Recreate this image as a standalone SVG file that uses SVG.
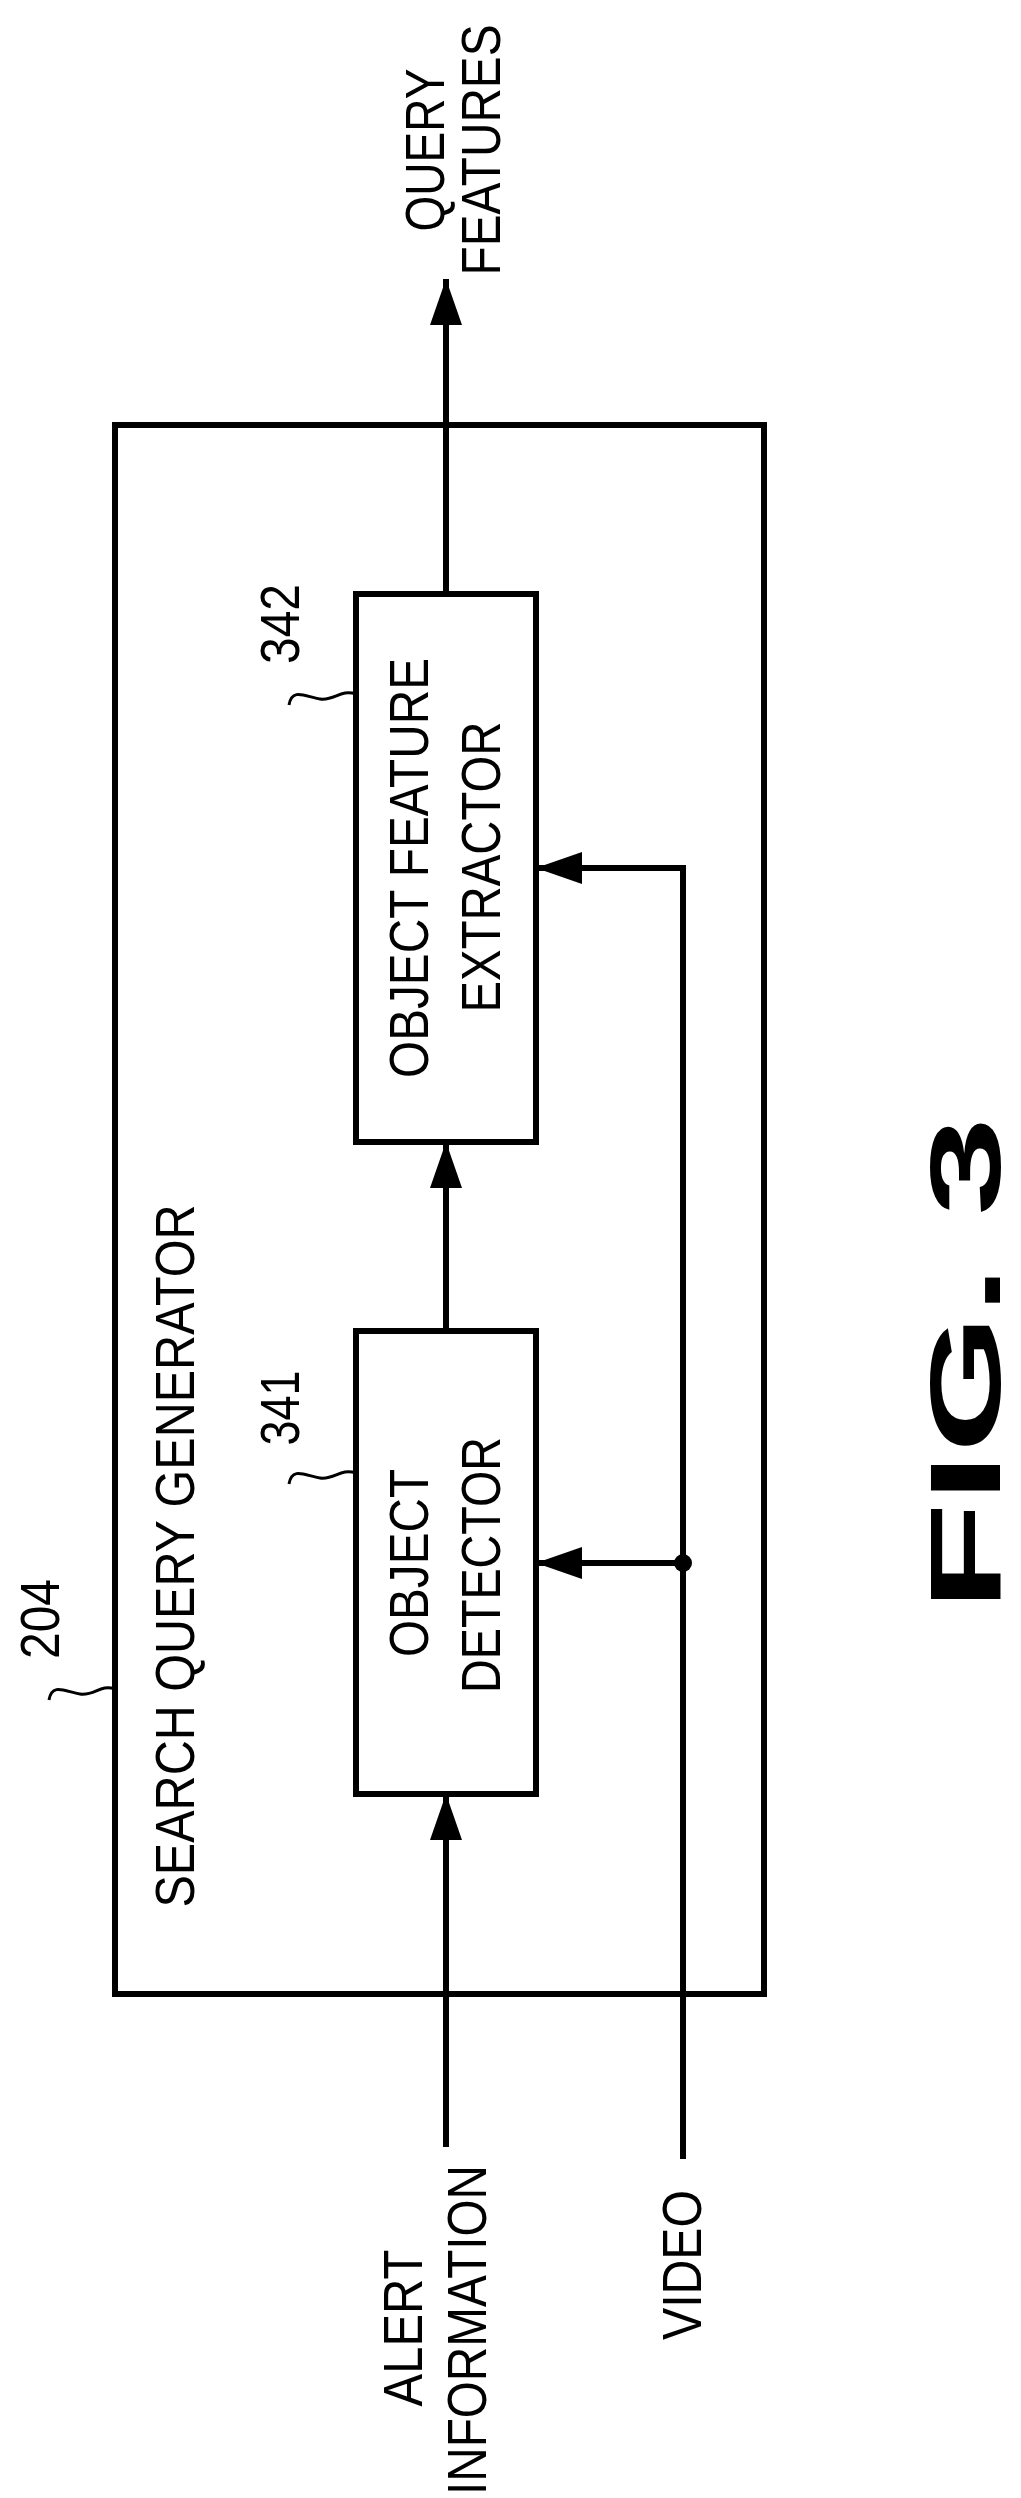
<svg xmlns="http://www.w3.org/2000/svg" width="1021" height="2498" viewBox="0 0 1021 2498">
<style>
.t{font-family:"Liberation Sans",Arial,sans-serif;font-size:56px;fill:#000;text-anchor:middle}
.b{fill:#fff;stroke:#000;stroke-width:6}
.l{fill:none;stroke:#000;stroke-width:6}
.c{fill:none;stroke:#000;stroke-width:3}
</style>
<defs>
<marker id="ah" markerUnits="userSpaceOnUse" markerWidth="50" markerHeight="40" refX="46" refY="16" orient="auto"><path d="M0,0 L46,16 L0,32 Z" fill="#000"/></marker>
</defs>
<g id="n204">
<rect class="b" x="115" y="425" width="649" height="1569"/>
<text class="t" transform="translate(194,1556) rotate(-90)" textLength="703" lengthAdjust="spacingAndGlyphs">SEARCH QUERY GENERATOR</text>
<text class="t" transform="translate(59,1619) rotate(-90)" textLength="80" lengthAdjust="spacingAndGlyphs">204</text>
<path class="c" d="M49,1700 C52,1682 66,1692 80,1694 C95,1696 100,1684 115,1689"/>
</g>
<g id="n342">
<rect class="b" x="356" y="594" width="180" height="548"/>
<text class="t" transform="translate(428,868) rotate(-90)" textLength="420" lengthAdjust="spacingAndGlyphs">OBJECT FEATURE</text>
<text class="t" transform="translate(500,867) rotate(-90)" textLength="291" lengthAdjust="spacingAndGlyphs">EXTRACTOR</text>
<text class="t" transform="translate(299,624) rotate(-90)" textLength="80" lengthAdjust="spacingAndGlyphs">342</text>
<path class="c" d="M289,705 C292,687 306,697 320,699 C335,701 340,689 356,694"/>
</g>
<g id="n341">
<rect class="b" x="356" y="1331" width="180" height="463"/>
<text class="t" transform="translate(428,1563) rotate(-90)" textLength="188" lengthAdjust="spacingAndGlyphs">OBJECT</text>
<text class="t" transform="translate(500,1565) rotate(-90)" textLength="256" lengthAdjust="spacingAndGlyphs">DETECTOR</text>
<text class="t" transform="translate(299,1408) rotate(-90)" textLength="75" lengthAdjust="spacingAndGlyphs">341</text>
<path class="c" d="M289,1484 C292,1466 306,1476 320,1478 C335,1480 340,1468 356,1473"/>
</g>
<g id="connectors">
<line class="l" x1="446" y1="594" x2="446" y2="279" marker-end="url(#ah)"/>
<line class="l" x1="446" y1="1331" x2="446" y2="1142" marker-end="url(#ah)"/>
<line class="l" x1="446" y1="2147" x2="446" y2="1794" marker-end="url(#ah)"/>
<polyline class="l" points="683,2159 683,868 536,868" marker-end="url(#ah)"/>
<line class="l" x1="683" y1="1563" x2="536" y2="1563" marker-end="url(#ah)"/>
<circle cx="683" cy="1563" r="9" fill="#000"/>
</g>
<g id="labels">
<text class="t" transform="translate(444,150) rotate(-90)" textLength="163" lengthAdjust="spacingAndGlyphs">QUERY</text>
<text class="t" transform="translate(500,150) rotate(-90)" textLength="251" lengthAdjust="spacingAndGlyphs">FEATURES</text>
<text class="t" transform="translate(422,2328) rotate(-90)" textLength="157" lengthAdjust="spacingAndGlyphs">ALERT</text>
<text class="t" transform="translate(486,2330) rotate(-90)" textLength="330" lengthAdjust="spacingAndGlyphs">INFORMATION</text>
<text class="t" transform="translate(701,2265) rotate(-90)" textLength="150" lengthAdjust="spacingAndGlyphs">VIDEO</text>
<text transform="translate(1000,1364) rotate(-90)" font-family="Liberation Sans,Arial,sans-serif" font-weight="bold" font-size="100" text-anchor="middle" textLength="494" lengthAdjust="spacingAndGlyphs">FIG.  3</text>
</g>
</svg>
